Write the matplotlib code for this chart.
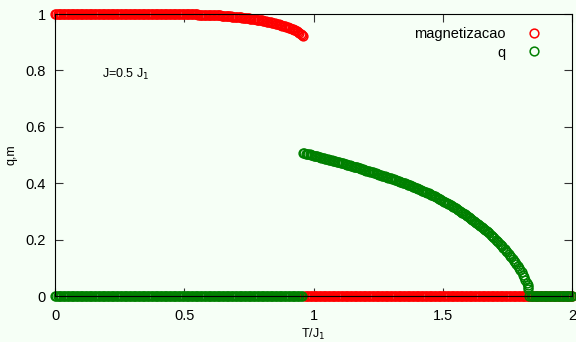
import numpy as np
import matplotlib
matplotlib.use("Agg")
import matplotlib.pyplot as plt

plt.rcParams['font.family'] = ['Liberation Sans', 'DejaVu Sans']
plt.rcParams['font.size'] = 10.5

# ---------------- data ----------------
STEP = 0.005

def grid(a, b):
    return np.round(np.arange(a, b + 1e-9, STEP), 3)

# magnetization: flat part (T = 0 ... 0.495)
T_m_flat = grid(0.0, 0.495)
m_flat = [1.0] * len(T_m_flat)
# magnetization: bending part (T = 0.500 ... 0.960)
T_m_bend = grid(0.5, 0.96)
m_bend = [
    1.000, 1.000, 1.000, 1.000, 1.000, 0.999, 0.999, 0.999, 0.999, 0.999,   # 0.500-0.545
    0.999, 0.998, 0.998, 0.998, 0.998, 0.998, 0.998, 0.997, 0.997, 0.997,   # 0.550-0.595
    0.997, 0.996, 0.996, 0.996, 0.996, 0.995, 0.995, 0.995, 0.995, 0.994,   # 0.600-0.645
    0.994, 0.993, 0.993, 0.993, 0.993, 0.992, 0.992, 0.991, 0.991, 0.990,   # 0.650-0.695
    0.990, 0.989, 0.989, 0.988, 0.988, 0.987, 0.987, 0.986, 0.986, 0.985,   # 0.700-0.745
    0.985, 0.984, 0.983, 0.982, 0.982, 0.981, 0.980, 0.979, 0.979, 0.978,   # 0.750-0.795
    0.977, 0.976, 0.975, 0.974, 0.973, 0.972, 0.971, 0.970, 0.969, 0.968,   # 0.800-0.845
    0.967, 0.966, 0.965, 0.963, 0.962, 0.960, 0.959, 0.957, 0.956, 0.954,   # 0.850-0.895
    0.953, 0.951, 0.950, 0.948, 0.946, 0.944, 0.942, 0.940, 0.937, 0.934,   # 0.900-0.945
    0.930, 0.926, 0.922]                                                    # 0.950-0.960
# magnetization vanishes above the jump
T_m_zero = grid(0.965, 2.0)
m_zero = [0.0] * len(T_m_zero)

# q: zero below the jump
T_q_low = grid(0.0, 0.955)
q_low = [0.0] * len(T_q_low)
# q: finite branch (T = 0.960 ... 1.830) plus last points near Tc
T_q_mid = grid(0.96, 1.83)
q_mid = [
    0.507, 0.506, 0.505, 0.504, 0.503, 0.502, 0.501, 0.500, 0.498, 0.497,   # 0.960-1.005
    0.496, 0.495, 0.494, 0.492, 0.491, 0.490, 0.489, 0.487, 0.486, 0.485,   # 1.010-1.055
    0.484, 0.482, 0.481, 0.480, 0.479, 0.477, 0.476, 0.475, 0.474, 0.472,   # 1.060-1.105
    0.471, 0.470, 0.469, 0.467, 0.466, 0.465, 0.464, 0.462, 0.461, 0.459,   # 1.110-1.155
    0.458, 0.457, 0.456, 0.454, 0.453, 0.451, 0.450, 0.448, 0.447, 0.445,   # 1.160-1.205
    0.444, 0.442, 0.441, 0.439, 0.438, 0.436, 0.435, 0.433, 0.432, 0.430,   # 1.210-1.255
    0.429, 0.427, 0.426, 0.424, 0.423, 0.421, 0.420, 0.418, 0.417, 0.415,   # 1.260-1.305
    0.414, 0.412, 0.411, 0.409, 0.408, 0.406, 0.404, 0.402, 0.401, 0.399,   # 1.310-1.355
    0.397, 0.395, 0.394, 0.392, 0.390, 0.388, 0.386, 0.384, 0.382, 0.380,   # 1.360-1.405
    0.378, 0.376, 0.374, 0.372, 0.370, 0.368, 0.366, 0.364, 0.362, 0.359,   # 1.410-1.455
    0.357, 0.355, 0.353, 0.350, 0.348, 0.345, 0.343, 0.340, 0.338, 0.335,   # 1.460-1.505
    0.333, 0.330, 0.328, 0.325, 0.322, 0.319, 0.317, 0.314, 0.311, 0.308,   # 1.510-1.555
    0.305, 0.302, 0.299, 0.296, 0.293, 0.290, 0.287, 0.283, 0.280, 0.277,   # 1.560-1.605
    0.274, 0.270, 0.267, 0.263, 0.260, 0.256, 0.253, 0.249, 0.245, 0.241,   # 1.610-1.655
    0.238, 0.234, 0.230, 0.226, 0.222, 0.217, 0.213, 0.209, 0.205, 0.200,   # 1.660-1.705
    0.196, 0.191, 0.186, 0.181, 0.176, 0.171, 0.166, 0.160, 0.155, 0.149,   # 1.710-1.755
    0.143, 0.137, 0.131, 0.125, 0.119, 0.113, 0.106, 0.099, 0.092, 0.084,   # 1.760-1.805
    0.076, 0.067, 0.058, 0.047, 0.031]                                      # 1.810-1.830
T_q_tail = [1.828, 1.831]
q_tail = [0.040, 0.026]
# q: zero above Tc
T_q_high = grid(1.835, 2.0)
q_high = [0.0] * len(T_q_high)

x_ticks = [0, 0.5, 1, 1.5, 2]
y_ticks = [0, 0.2, 0.4, 0.6, 0.8, 1]
x_ticklabels = ['0', '0.5', '1', '1.5', '2']
y_ticklabels = ['0', '0.2', '0.4', '0.6', '0.8', '1']

# ---------------- figure ----------------
bg = '#f6fff6'
fig = plt.figure(figsize=(5.76, 3.42), dpi=100, facecolor=bg)
ax = fig.add_axes([55/576, 1-296/342, (572-55)/576, (296-14)/342])
ax.set_facecolor(bg)

red = '#ff0000'
green = '#008000'
mk = dict(linestyle='none', marker='o', markersize=6.3, markerfacecolor='none',
          markeredgewidth=1.1, clip_on=False, antialiased=False)

T_m = np.concatenate([T_m_flat, T_m_bend, T_m_zero])
m_all = np.concatenate([m_flat, m_bend, m_zero])
T_q = np.concatenate([T_q_low, T_q_mid, T_q_tail, T_q_high])
q_all = np.concatenate([q_low, q_mid, q_tail, q_high])

lm, = ax.plot(T_m, m_all, color=red, label='magnetizacao', zorder=2, **mk)
lq, = ax.plot(T_q, q_all, color=green, label='q', zorder=2.1, **mk)

ax.set_xlim(0, 2)
ax.set_ylim(0, 1)
ax.set_xticks(x_ticks)
ax.set_xticklabels(x_ticklabels)
ax.set_yticks(y_ticks)
ax.set_yticklabels(y_ticklabels)
ax.tick_params(direction='in', length=6, width=0.8, top=True, right=True,
               colors='#333333', labelcolor='black', labelsize=10.5)
ax.tick_params(axis='x', pad=9.5)
ax.tick_params(axis='y', pad=6.5)
for s in ax.spines.values():
    s.set_linewidth(0.8)
    s.set_color('black')
    s.set_zorder(3)

ax.set_xlabel('T/J$_1$', fontsize=9, labelpad=3)
ax.set_ylabel('q,m', fontsize=9, labelpad=6)

ax.text(0.18, 0.784, 'J=0.5 J$_1$', fontsize=9, ha='left', va='center')

leg = ax.legend(handles=[lm, lq], loc='upper right', bbox_to_anchor=(0.966, 1.0),
                markerfirst=False, frameon=False, numpoints=1, handlelength=1.0,
                handletextpad=1.45, labelspacing=0.3, fontsize=10.5, borderpad=0.4)

fig.savefig('out.png', dpi=100, facecolor=bg)
